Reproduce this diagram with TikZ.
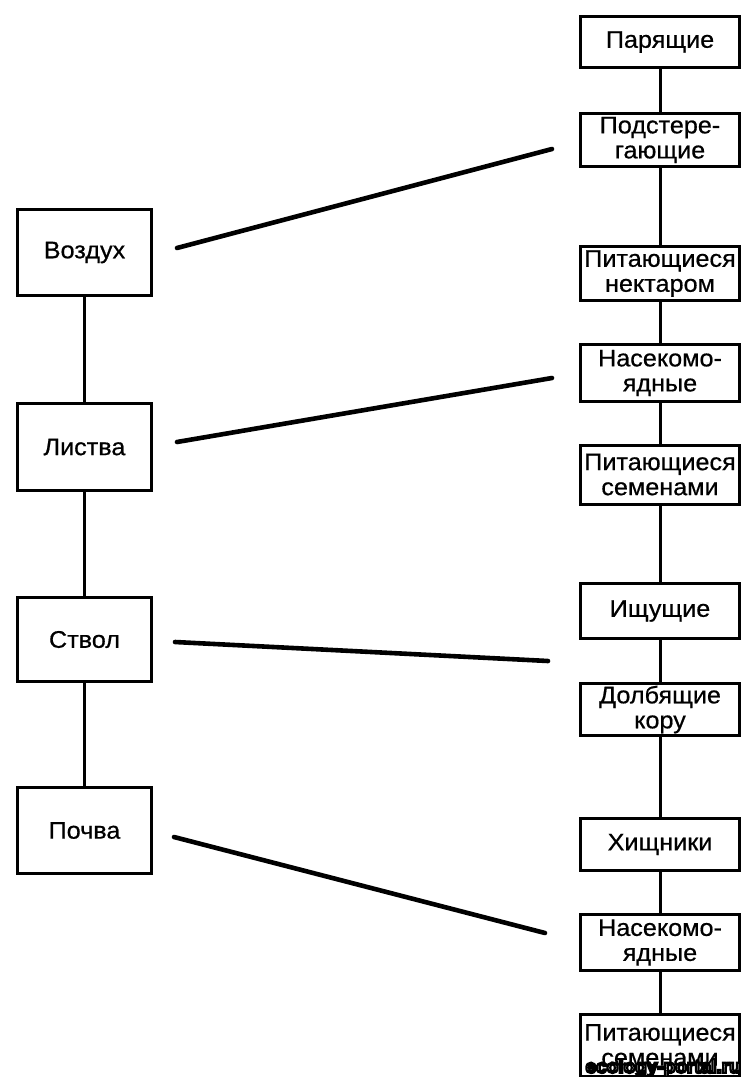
\documentclass[tikz,border=0pt]{standalone}
\usepackage{fontspec}
\setmainfont{Liberation Sans}[FakeStretch=1.05, FakeBold=0.6]
\newfontfamily\wmfont{Liberation Sans}
\begin{document}
\begin{tikzpicture}[x=1pt,y=-1pt,
  box/.style={draw, line width=3pt, inner sep=0pt, align=center,
    font=\fontsize{24}{25}\selectfont},
  lbox/.style={box, minimum width=134pt},
  rbox/.style={box, minimum width=159pt},
  link/.style={line width=3pt},
  diag/.style={line width=4.6pt, line cap=round}]
\useasboundingbox[fill=white] (0,0) rectangle (742,1077);
% left column
\node[lbox, minimum height=86pt] (l1) at (84.5,252.5) {Воздух};
\node[lbox, minimum height=87pt] (l2) at (84.5,447) {Листва};
\node[lbox, minimum height=84pt] (l3) at (84.5,639.5) {Ствол};
\node[lbox, minimum height=86pt] (l4) at (84.5,830.5) {Почва};
% right column
\node[rbox, minimum height=51pt] (r1) at (660,42) {Парящие};
\node[rbox, minimum height=53pt] (r2) at (660,140) {Подстере-\\гающие};
\node[rbox, minimum height=54pt] (r3) at (660,273.5) {Питающиеся\\нектаром};
\node[rbox, minimum height=57pt] (r4) at (660,373) {Насекомо-\\ядные};
\node[rbox, minimum height=59pt] (r5) at (660,474.5) {Питающиеся\\семенами};
\node[rbox, minimum height=55pt] (r6) at (660,611) {Ищущие};
\node[rbox, minimum height=52pt] (r7) at (660,709.5) {Долбящие\\кору};
\node[rbox, minimum height=52pt] (r8) at (660,844.5) {Хищники};
\node[rbox, minimum height=56pt] (r9) at (660,942.5) {Насекомо-\\ядные};
\node[rbox, minimum height=62pt] (r10) at (660,1045) {Питающиеся\\семенами};
% vertical links
\draw[link] (l1) -- (l2);
\draw[link] (l2) -- (l3);
\draw[link] (l3) -- (l4);
\foreach \a/\b in {r1/r2,r2/r3,r3/r4,r4/r5,r5/r6,r6/r7,r7/r8,r8/r9,r9/r10}
  \draw[link] (\a) -- (\b);
% diagonal links (free ends)
\coordinate (a1) at (177,248);  \coordinate (b1) at (552,149);
\coordinate (a2) at (177,442);  \coordinate (b2) at (552,378);
\coordinate (a3) at (175,642);  \coordinate (b3) at (548,661);
\coordinate (a4) at (174,837);  \coordinate (b4) at (545,933);
\draw[diag] (a1) -- (b1);
\draw[diag] (a2) -- (b2);
\draw[diag] (a3) -- (b3);
\draw[diag] (a4) -- (b4);
% watermark: white letters with black outline
\node[font=\wmfont\fontsize{19}{19}\bfseries\selectfont, inner sep=0pt, anchor=east]
  (wm) at (741,1068) {\color{white}\special{pdf:literal direct 0 G 2 Tr 2.2 w}ecology-portal.ru\special{pdf:literal direct 0 Tr}};
\end{tikzpicture}
\end{document}
